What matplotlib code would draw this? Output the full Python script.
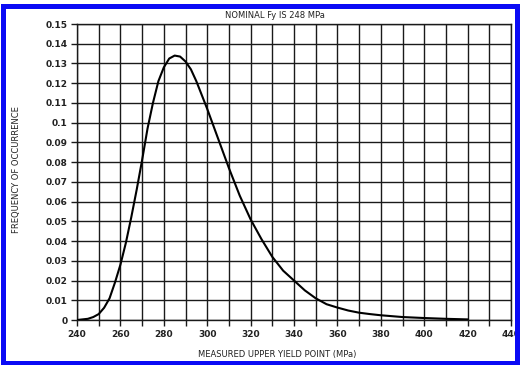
import matplotlib
matplotlib.use("Agg")
import matplotlib.pyplot as plt
from matplotlib.patches import Rectangle

# values (MPa, frequency)
yield_mpa = [240, 245, 247.5, 250, 252.5, 255, 257.5, 260, 262.5, 265, 267.5, 270, 272.5, 275, 277.5,
             280, 282.5, 285, 287.5, 290, 292.5, 295, 300, 305, 310, 315, 320, 325,
             330, 335, 340, 345, 350, 355, 360, 365, 370, 375, 380, 390, 400, 410, 420]
freq = [0.0, 0.0006, 0.0015, 0.003, 0.0062, 0.011, 0.019, 0.028, 0.039, 0.052, 0.066, 0.081, 0.097,
        0.110, 0.121, 0.128, 0.1325, 0.134, 0.1335, 0.131, 0.127, 0.121, 0.107, 0.092, 0.077, 0.063,
        0.051, 0.041, 0.032, 0.025, 0.020, 0.015, 0.011, 0.008, 0.0063, 0.0048, 0.0037, 0.003,
        0.0024, 0.0015, 0.001, 0.0006, 0.0003]

x_ticks = list(range(240, 441, 20))
x_grid = list(range(240, 441, 10))
y_ticks = [i / 100 for i in range(16)]
y_labels = ["0", "0.01", "0.02", "0.03", "0.04", "0.05", "0.06", "0.07", "0.08", "0.09",
            "0.1", "0.11", "0.12", "0.13", "0.14", "0.15"]

plt.rcParams['font.family'] = ['DejaVu Sans']

fig = plt.figure(figsize=(5.2, 3.65), dpi=100)
ax = fig.add_axes([77 / 520, 1 - 320 / 365, (511 - 77) / 520, (320 - 24) / 365])

ax.plot(yield_mpa, freq, color='black', lw=1.5, zorder=3, solid_joinstyle='round')

ax.set_xlim(240, 440)
ax.set_ylim(0, 0.15)
ax.set_xticks(x_grid, minor=True)
ax.set_xticks(x_ticks)
ax.set_yticks(y_ticks)
ax.set_yticklabels(y_labels)
ax.grid(True, which='both', color='#1a1a1a', lw=1.0)
ax.tick_params(which='both', direction='out', length=4, width=1.0, color='#1a1a1a',
               labelsize=6.5, pad=3)
for lab in ax.get_xticklabels() + ax.get_yticklabels():
    lab.set_fontweight('bold')
    lab.set_color('#222222')
for s in ax.spines.values():
    s.set_color('#1a1a1a')
    s.set_linewidth(1.0)

fig.text(275 / 520, 1 - 15 / 365, "NOMINAL Fy IS 248 MPa", ha='center', va='center',
         fontsize=6, color='#222222')
fig.text(277 / 520, 1 - 355 / 365, "MEASURED UPPER YIELD POINT (MPa)", ha='center', va='center',
         fontsize=6, color='#222222')
fig.text(17 / 520, 1 - 170 / 365, "FREQUENCY OF OCCURRENCE", ha='center', va='center',
         rotation=90, fontsize=6, color='#222222')

# blue frame round the picture
fig.patches.append(Rectangle((2.5 / 520, 2.5 / 365), 514.5 / 520, 357 / 365,
                             transform=fig.transFigure, fill=False, edgecolor='#0a0af5',
                             lw=3.6, zorder=10))

fig.savefig("out.png", dpi=100)
